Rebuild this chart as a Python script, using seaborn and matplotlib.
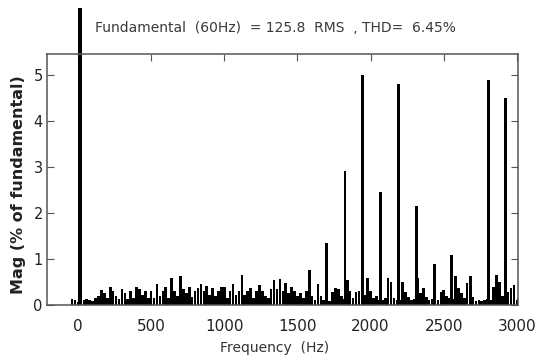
import numpy as np
import pandas as pd
import matplotlib
matplotlib.use('Agg')
import matplotlib.pyplot as plt
import seaborn as sns

# fundamental bar (drawn past the top of the axes, as in the original)
fund_freq = [15]
fund_mag = [6.45]

# main harmonic peaks (Hz, % of fundamental)
harm_freq = [1580, 1700, 1825, 1945, 2065, 2190, 2315, 2435, 2555, 2680, 2805, 2925]
harm_mag = [0.76, 1.35, 2.91, 5.0, 2.45, 4.8, 2.16, 0.9, 1.09, 0.63, 4.88, 4.49]

# low level spectrum, one value every 20 Hz from -40 to 3000 Hz
noise_freq = list(range(-40, 3001, 20))
noise_mag = [
    0.12, 0.1, 0.06, 0.12, 0.1, 0.12, 0.1, 0.08, 0.15, 0.2, 0.33, 0.25, 0.15,   # -40..200
    0.38, 0.3, 0.2, 0.12, 0.35, 0.25, 0.12, 0.3, 0.15, 0.38, 0.35, 0.22, 0.3,  # 220..460
    0.15, 0.3, 0.15, 0.45, 0.2, 0.3, 0.4, 0.15, 0.58, 0.3, 0.2, 0.63, 0.35,    # 480..720
    0.25, 0.4, 0.18, 0.3, 0.36, 0.45, 0.3, 0.42, 0.22, 0.36, 0.2, 0.3, 0.4,    # 740..980
    0.38, 0.15, 0.3, 0.45, 0.22, 0.3, 0.65, 0.22, 0.3, 0.36, 0.15, 0.3, 0.43,  # 1000..1240
    0.3, 0.2, 0.15, 0.35, 0.54, 0.35, 0.56, 0.3, 0.47, 0.25, 0.38, 0.3, 0.2,   # 1260..1500
    0.25, 0.15, 0.3, 0.12, 0.2, 0.1, 0.45, 0.2, 0.1, 0.1, 0.08, 0.28, 0.36,    # 1520..1760
    0.34, 0.2, 0.12, 0.54, 0.3, 0.15, 0.28, 0.3, 0.12, 0.22, 0.58, 0.3, 0.15,  # 1780..2020
    0.2, 0.1, 0.1, 0.15, 0.58, 0.5, 0.15, 0.1, 0.1, 0.5, 0.28, 0.18, 0.1,      # 2040..2280
    0.12, 0.58, 0.25, 0.36, 0.18, 0.1, 0.12, 0.15, 0.1, 0.28, 0.33, 0.2, 0.15, # 2300..2540
    0.12, 0.62, 0.36, 0.25, 0.15, 0.47, 0.12, 0.18, 0.08, 0.1, 0.08, 0.1,      # 2560..2780
    0.12, 0.1, 0.4, 0.65, 0.5, 0.2, 0.12, 0.28, 0.36, 0.43, 0.1,               # 2800..3000
]

x_ticks = [0, 500, 1000, 1500, 2000, 2500, 3000]
y_ticks = [0, 1, 2, 3, 4, 5]
title = 'Fundamental  (60Hz)  = 125.8  RMS  , THD=  6.45%'

noise = pd.DataFrame({'freq': noise_freq, 'mag': noise_mag})
harm = pd.DataFrame({'freq': harm_freq, 'mag': harm_mag})
fund = pd.DataFrame({'freq': fund_freq, 'mag': fund_mag})

sns.set_style('ticks')
plt.rcParams['font.family'] = ['DejaVu Sans']

fig = plt.figure(figsize=(5.37, 3.62), dpi=100)
ax = fig.add_axes([0.0875, 0.1575, 0.877, 0.6934])

sns.barplot(data=noise, x='freq', y='mag', native_scale=True, width=0.9,
            color='black', saturation=1, linewidth=0, ax=ax)
sns.barplot(data=harm, x='freq', y='mag', native_scale=True, width=20 / 120,
            color='black', saturation=1, linewidth=0, ax=ax)
sns.barplot(data=fund, x='freq', y='mag', native_scale=True, width=26,
            color='black', saturation=1, linewidth=0, clip_on=False, ax=ax)

ax.set_xlim(-212, 3007)
ax.set_ylim(0, 5.45)
ax.set_xticks(x_ticks)
ax.set_yticks(y_ticks)
ax.tick_params(axis='both', direction='in', top=True, right=True, length=5,
               color='#555555', labelcolor='#222222')
ax.tick_params(axis='x', labelsize=11, pad=10)
ax.tick_params(axis='y', labelsize=10.5, pad=3)
for s in ax.spines.values():
    s.set_visible(True)
    s.set_color('#555555')
    s.set_linewidth(1.1)

ax.set_xlabel('Frequency  (Hz)', fontsize=10, color='#333333')
ax.set_ylabel('Mag (% of fundamental)', fontsize=11.5, fontweight='bold', color='#222222')
ax.xaxis.set_label_coords(0.484, -0.145)
ax.yaxis.set_label_coords(-0.045, 0.48)

fig.text(0.512, 0.923, title, ha='center', va='center', fontsize=10, color='#3a3a3a')

fig.savefig('out.png', dpi=100)
